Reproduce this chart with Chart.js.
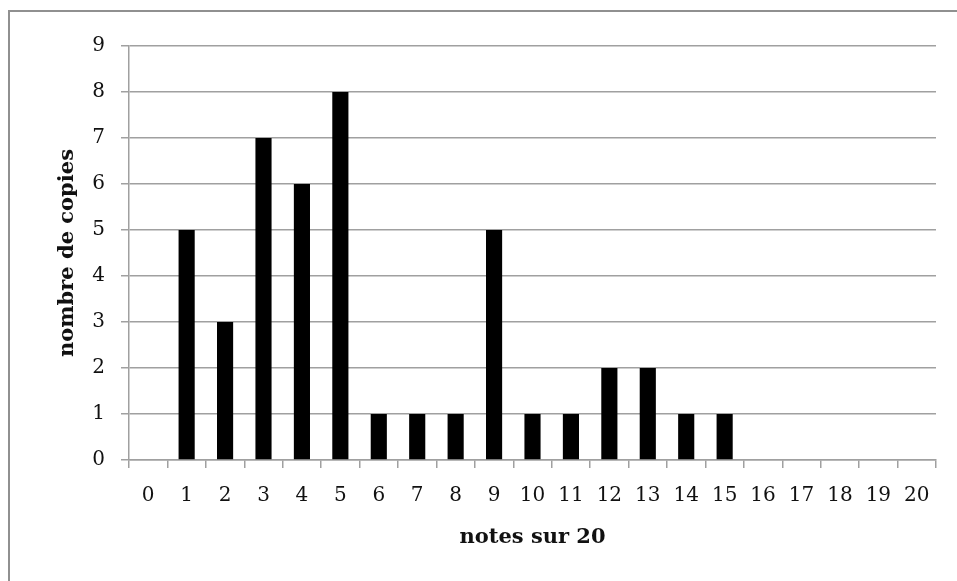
<!DOCTYPE html>
<html>
<head>
<meta charset="utf-8">
<script src="https://cdn.jsdelivr.net/npm/chart.js@4"></script>
<style>
  html, body { margin: 0; padding: 0; background: #fff; }
  #wrap { width: 957px; height: 581px; position: relative; }
</style>
</head>
<body>
<div id="wrap"><canvas id="notesChart"></canvas></div>
<script>
// notes sur 20 -> nombre de copies
const notes = ['0','1','2','3','4','5','6','7','8','9','10','11','12','13','14','15','16','17','18','19','20'];
const copies = [0, 5, 3, 7, 6, 8, 1, 1, 1, 5, 1, 1, 2, 2, 1, 1, 0, 0, 0, 0, 0];
const yTicks = [0, 1, 2, 3, 4, 5, 6, 7, 8, 9];

const xTitle = 'notes sur 20';
const yTitle = 'nombre de copies';

const gridGray = '#a0a0a0';
const serif = "'DejaVu Serif', 'Liberation Serif', serif";

// cadre gris en haut et à gauche
const framePlugin = {
  id: 'frame',
  beforeDraw(chart) {
    const c = chart.ctx;
    c.save();
    c.fillStyle = '#fff';
    c.fillRect(0, 0, chart.width, chart.height);
    c.strokeStyle = '#909090';
    c.lineWidth = 2;
    c.beginPath();
    c.moveTo(9, chart.height);
    c.lineTo(9, 11);
    c.lineTo(chart.width, 11);
    c.stroke();
    c.restore();
  }
};

const ctx = document.getElementById('notesChart');
new Chart(ctx, {
  type: 'bar',
  data: {
    labels: notes,
    datasets: [{
      label: yTitle,
      data: copies,
      backgroundColor: '#000',
      borderWidth: 0,
      categoryPercentage: 1,
      barPercentage: 0.42
    }]
  },
  options: {
    responsive: true,
    maintainAspectRatio: false,
    animation: false,
    layout: { padding: { left: 0, top: 46, right: 21, bottom: 0 } },
    plugins: {
      legend: { display: false },
      tooltip: { enabled: false }
    },
    scales: {
      x: {
        offset: true,
        grid: {
          offset: true,
          drawOnChartArea: false,
          drawTicks: true,
          tickLength: 8,
          color: gridGray,
          lineWidth: 1.5
        },
        border: { color: gridGray, width: 1.5 },
        ticks: {
          color: '#111',
          font: { family: serif, size: 20 },
          padding: 16,
          maxRotation: 0,
          autoSkip: false
        },
        title: {
          display: true,
          text: xTitle,
          color: '#111',
          font: { family: serif, size: 21, weight: 'bold' },
          padding: { top: 0, bottom: 31 }
        },
        afterFit(scale) { scale.height = 121; }
      },
      y: {
        min: 0,
        max: 9,
        afterBuildTicks(scale) { scale.ticks = yTicks.map(v => ({ value: v })); },
        grid: {
          drawTicks: true,
          tickLength: 8,
          color: gridGray,
          lineWidth: 1.5
        },
        border: { color: gridGray, width: 1.5 },
        ticks: {
          color: '#111',
          font: { family: serif, size: 20 },
          padding: 16
        },
        title: {
          display: true,
          text: yTitle,
          color: '#111',
          font: { family: serif, size: 21, weight: 'bold' },
          padding: { top: 55, bottom: 0 }
        },
        afterFit(scale) { scale.width = 129; }
      }
    }
  },
  plugins: [framePlugin]
});
</script>
</body>
</html>
